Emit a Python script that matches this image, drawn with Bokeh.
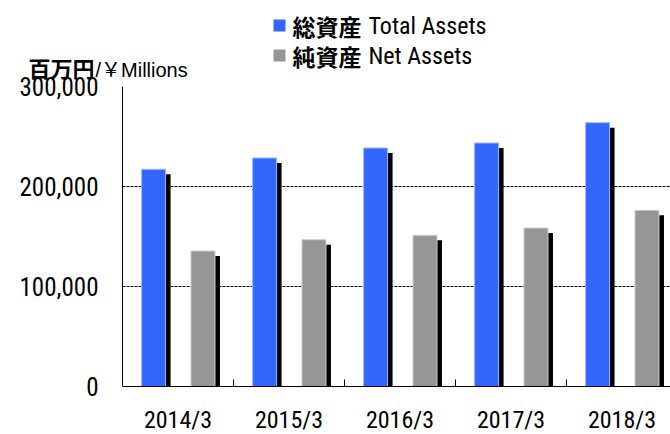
from bokeh.plotting import figure
from bokeh.layouts import column
from bokeh.models import (ColumnDataSource, Range1d, FixedTicker, NumeralTickFormatter,
                          Label, BoxAnnotation)
from bokeh.embed import file_html
from bokeh.resources import INLINE

# ---- data ----
categories = ["2014/3", "2015/3", "2016/3", "2017/3", "2018/3"]
total_assets = [217200, 228500, 238500, 243500, 263800]
net_assets = [135500, 146800, 151200, 158500, 176200]
y_ticks = [0, 100000, 200000, 300000]

# ---- layout constants (pixels) ----
W = 670
HEADER_H = 92           # header canvas: page y 0..92
OVERLAP = 28            # chart canvas starts at page y 64
CAT_PX = 111.0
LEFT = 122
FRAME_W = W - LEFT
FRAME_H = 300
TOP = 22                # frame top at page y 86
BOTTOM = 48
BAR_W = 24 / CAT_PX
BLUE_OFF = -0.22
GRAY_OFF = 0.225
SH_X = 5 / CAT_PX
SH_Y = 5000

NARROW = "'Liberation Sans Narrow', 'Roboto Condensed', 'Liberation Sans', sans-serif"
CJK = "'Noto Sans CJK JP', sans-serif"

# ---------------- header (unit + legend) ----------------
h = figure(frame_width=W, frame_height=HEADER_H,
           x_range=Range1d(0, W), y_range=Range1d(HEADER_H, 0),
           x_axis_type=None, y_axis_type=None,
           output_backend="svg", toolbar_location=None, min_border=0)
h.frame_align = False
h.outline_line_color = None
h.grid.visible = False

h.add_layout(Label(x=28, y=66, text="百万円", text_font=CJK, text_font_style="bold",
                   text_font_size="22px", text_baseline="middle", text_align="left",
                   text_color="black"))
h.add_layout(Label(x=95, y=69, text="/￥Millions",
                   text_font="'Liberation Sans', 'Noto Sans CJK JP', sans-serif",
                   text_font_size="20px", text_baseline="middle", text_align="left",
                   text_color="black"))

legend_rows = [(25, "#3366FF", "総資産", "Total Assets"),
               (55, "#969696", "純資産", "Net Assets")]
for row_y, color, jp, en in legend_rows:
    h.add_layout(BoxAnnotation(left=273, right=285, top=row_y - 6, bottom=row_y + 6,
                               fill_color=color, fill_alpha=1, line_color=None))
    h.add_layout(Label(x=292, y=row_y, text=jp, text_font=CJK, text_font_style="bold",
                       text_font_size="23px", text_baseline="middle", text_align="left",
                       text_color="black"))
    h.add_layout(Label(x=368, y=row_y, text=en, text_font=NARROW,
                       text_font_size="24px", text_baseline="middle", text_align="left",
                       text_color="black"))

# ---------------- chart ----------------
idx = list(range(len(categories)))
src = ColumnDataSource(dict(
    x_blue=[i + BLUE_OFF for i in idx],
    x_gray=[i + GRAY_OFF for i in idx],
    xs_blue=[i + BLUE_OFF + SH_X for i in idx],
    xs_gray=[i + GRAY_OFF + SH_X for i in idx],
    total=total_assets,
    net=net_assets,
    total_sh=[v - SH_Y for v in total_assets],
    net_sh=[v - SH_Y for v in net_assets],
))

p = figure(frame_width=FRAME_W, frame_height=FRAME_H,
           x_range=Range1d(-0.5, -0.5 + FRAME_W / CAT_PX),
           y_range=Range1d(0, 300000),
           output_backend="svg", toolbar_location=None,
           min_border_left=LEFT, min_border_right=0,
           min_border_top=TOP, min_border_bottom=BOTTOM,
           margin=(-OVERLAP, 0, 0, 0))
p.frame_align = False
p.outline_line_color = None
p.border_fill_color = None
p.background_fill_color = None

# shadows
p.vbar(x="xs_blue", top="total_sh", bottom=0, width=BAR_W, source=src,
       fill_color="black", line_color=None)
p.vbar(x="xs_gray", top="net_sh", bottom=0, width=BAR_W, source=src,
       fill_color="black", line_color=None)
# bars
p.vbar(x="x_blue", top="total", bottom=0, width=BAR_W, source=src,
       fill_color="#3366FF", line_color="#9DB5FF", line_width=1)
p.vbar(x="x_gray", top="net", bottom=0, width=BAR_W, source=src,
       fill_color="#969696", line_color="#CFCFCF", line_width=1)

# x axis
xa = p.xaxis[0]
xa.ticker = FixedTicker(ticks=idx, minor_ticks=[i + 0.5 for i in idx[:-1]])
xa.major_label_overrides = {i: c for i, c in zip(idx, categories)}
xa.major_tick_in = 0
xa.major_tick_out = 0
xa.minor_tick_in = 7
xa.minor_tick_out = 0
xa.minor_tick_line_color = "black"
xa.axis_line_color = "black"
xa.major_label_text_font = NARROW
xa.major_label_text_font_size = "24px"
xa.major_label_text_color = "black"
xa.major_label_standoff = 19

# y axis
ya = p.yaxis[0]
ya.ticker = FixedTicker(ticks=y_ticks)
ya.formatter = NumeralTickFormatter(format="0,0")
ya.major_tick_in = 0
ya.major_tick_out = 0
ya.minor_tick_in = 0
ya.minor_tick_out = 0
ya.axis_line_color = "black"
ya.major_label_text_font = NARROW
ya.major_label_text_font_size = "25px"
ya.major_label_text_color = "black"
ya.major_label_standoff = 24

p.xgrid.grid_line_color = None
p.ygrid.grid_line_color = "black"
p.ygrid.grid_line_dash = "3 1"
p.ygrid.grid_line_width = 1

layout = column(h, p, spacing=0)
open("out.html", "w").write(file_html(layout, INLINE))
